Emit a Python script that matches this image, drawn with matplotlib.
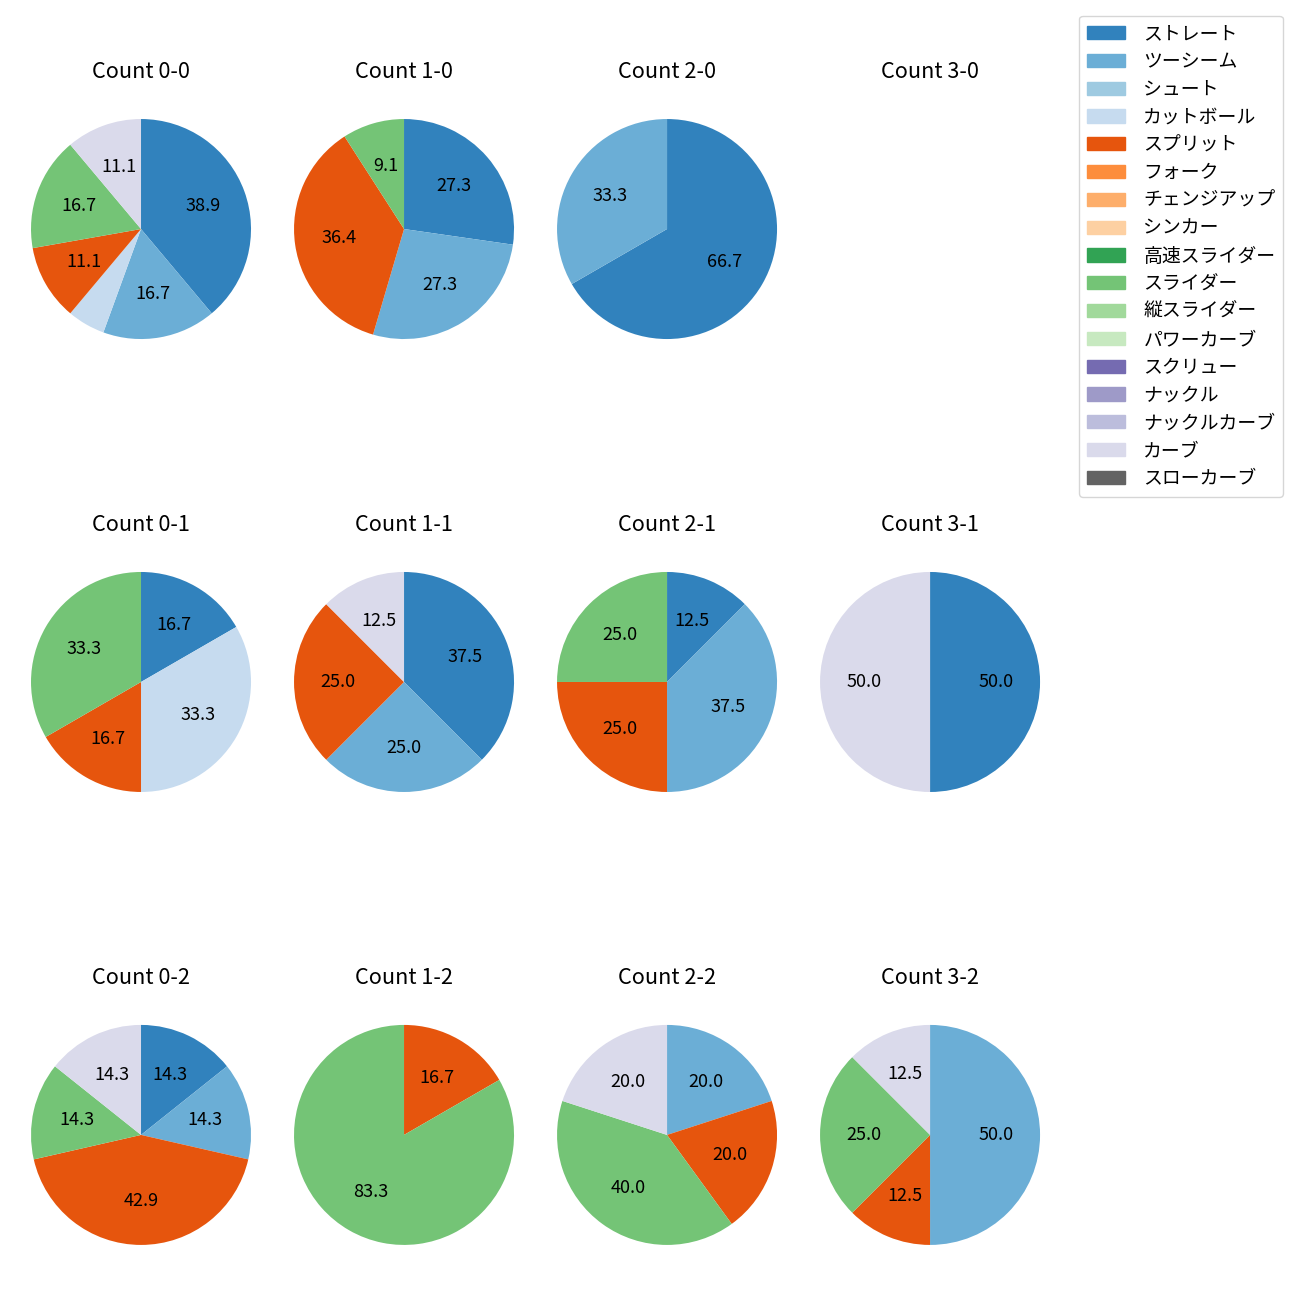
import matplotlib
matplotlib.use("Agg")
import matplotlib.pyplot as plt
from matplotlib.patches import Patch

plt.rcParams['font.family'] = ['Noto Sans CJK JP', 'DejaVu Sans']
plt.rcParams['font.size'] = 13

pitch_names = ['ストレート', 'ツーシーム', 'シュート', 'カットボール', 'スプリット', 'フォーク',
               'チェンジアップ', 'シンカー', '高速スライダー', 'スライダー', '縦スライダー',
               'パワーカーブ', 'スクリュー', 'ナックル', 'ナックルカーブ', 'カーブ', 'スローカーブ']
pitch_colors = [plt.cm.tab20c(i) for i in range(17)]

count_titles = ['Count 0-0', 'Count 1-0', 'Count 2-0', 'Count 3-0',
                'Count 0-1', 'Count 1-1', 'Count 2-1', 'Count 3-1',
                'Count 0-2', 'Count 1-2', 'Count 2-2', 'Count 3-2']

# pitches thrown per count (pitch type, number)
c00 = {'ストレート': 7, 'ツーシーム': 3, 'カットボール': 1, 'スプリット': 2, 'スライダー': 3, 'カーブ': 2}
c10 = {'ストレート': 3, 'ツーシーム': 3, 'スプリット': 4, 'スライダー': 1}
c20 = {'ストレート': 2, 'ツーシーム': 1}
c30 = {}
c01 = {'ストレート': 1, 'カットボール': 2, 'スプリット': 1, 'スライダー': 2}
c11 = {'ストレート': 3, 'ツーシーム': 2, 'スプリット': 2, 'カーブ': 1}
c21 = {'ストレート': 1, 'ツーシーム': 3, 'スプリット': 2, 'スライダー': 2}
c31 = {'ストレート': 1, 'カーブ': 1}
c02 = {'ストレート': 1, 'ツーシーム': 1, 'スプリット': 3, 'スライダー': 1, 'カーブ': 1}
c12 = {'スプリット': 1, 'スライダー': 5}
c22 = {'ツーシーム': 1, 'スプリット': 1, 'スライダー': 2, 'カーブ': 1}
c32 = {'ツーシーム': 4, 'スプリット': 1, 'スライダー': 2, 'カーブ': 1}

panels = [c00, c10, c20, c30, c01, c11, c21, c31, c02, c12, c22, c32]

fig, axes = plt.subplots(3, 4, figsize=(13, 13))
plt.subplots_adjust(left=0.0027, right=0.8212, top=0.9296, bottom=0.0212,
                    wspace=-0.0436, hspace=0.647)

for ax, title, d in zip(axes.flat, count_titles, panels):
    ax.set_title(title, pad=10)
    if not d:
        ax.axis('off')
        continue
    names = [n for n in pitch_names if n in d]
    vals = [d[n] for n in names]
    cols = [pitch_colors[pitch_names.index(n)] for n in names]
    ax.pie(vals, colors=cols, startangle=90, counterclock=False,
           autopct=lambda p: f'{p:.1f}' if p >= 8 else '')

handles = [Patch(color=c) for c in pitch_colors]
fig.legend(handles, pitch_names, loc='upper right', bbox_to_anchor=(0.987, 0.988),
           borderaxespad=0, fontsize=13.6, handletextpad=1.0, labelspacing=0.36)

plt.savefig('out.png', dpi=100)
